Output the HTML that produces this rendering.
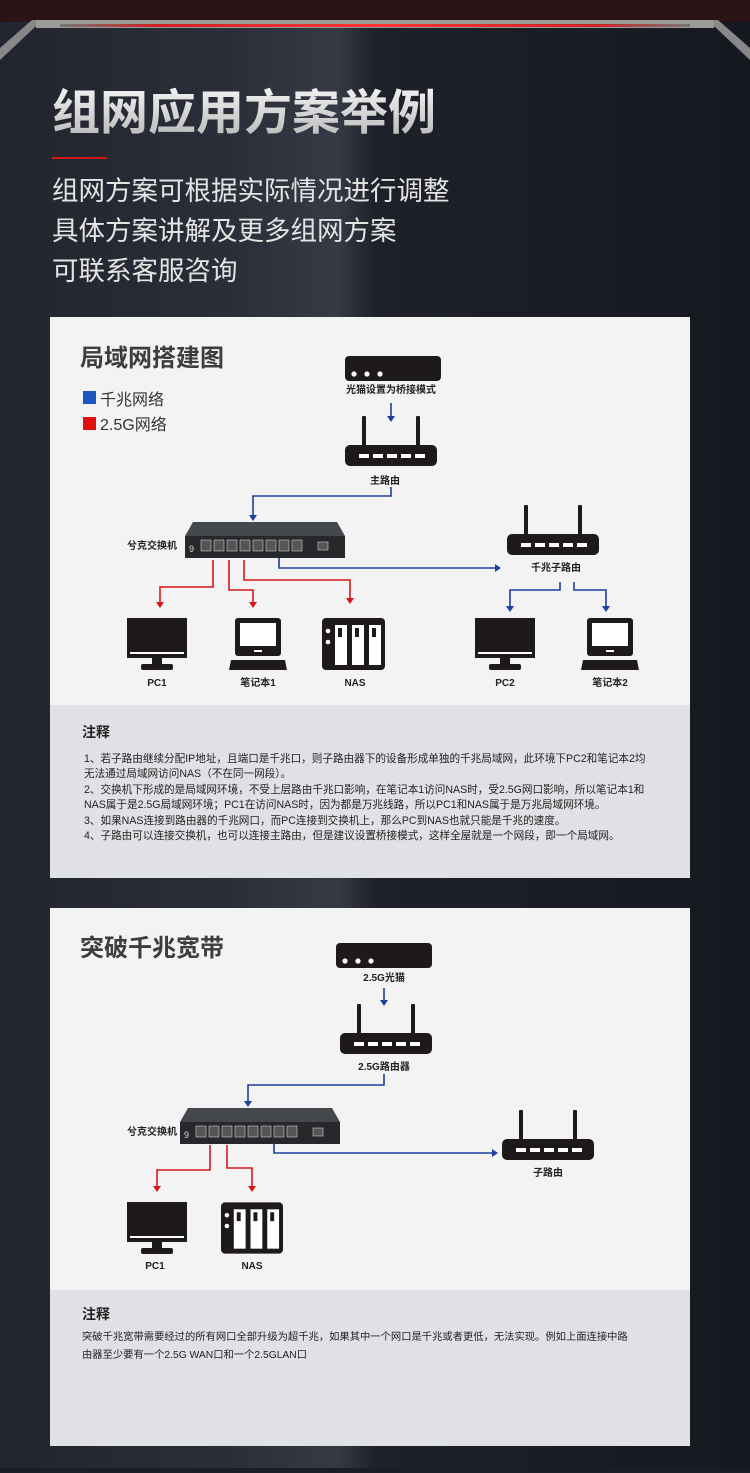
<!DOCTYPE html>
<html><head><meta charset="utf-8"><style>
html,body{margin:0;padding:0;}
body{width:750px;height:1468px;overflow:hidden;background:#1b1e27;font-family:"Liberation Sans","Noto Sans CJK SC",sans-serif;}
svg text{font-family:"Liberation Sans","Noto Sans CJK SC",sans-serif;}
</style></head><body>
<svg width="750" height="1468" viewBox="0 0 750 1468" xmlns="http://www.w3.org/2000/svg">
<defs>
<linearGradient id="bg" x1="0" x2="1" y1="0" y2="0">
<stop offset="0" stop-color="#22252e"/><stop offset="0.3" stop-color="#2a2e38"/><stop offset="0.45" stop-color="#363a45"/><stop offset="0.5" stop-color="#1e2129"/><stop offset="1" stop-color="#16181f"/>
</linearGradient>
<linearGradient id="red" x1="0" x2="1"><stop offset="0" stop-color="#777"/><stop offset="0.15" stop-color="#c22"/><stop offset="0.5" stop-color="#f33"/><stop offset="0.85" stop-color="#c22"/><stop offset="1" stop-color="#777"/></linearGradient>
<linearGradient id="tt" x1="0" x2="0" y1="0" y2="1"><stop offset="0" stop-color="#f2f2f2"/><stop offset="1" stop-color="#b8b8b8"/></linearGradient>
<symbol id="modem" viewBox="0 0 96 25"><rect x="0" y="0" width="96" height="25" rx="4" fill="#1e1a1a"/><circle cx="9" cy="18" r="2.6" fill="#fff"/><circle cx="22" cy="18" r="2.6" fill="#fff"/><circle cx="35" cy="18" r="2.6" fill="#fff"/></symbol>
<symbol id="router" viewBox="0 0 92 50"><rect x="17" y="0" width="4" height="32" rx="1" fill="#1e1a1a"/><rect x="71" y="0" width="4" height="32" rx="1" fill="#1e1a1a"/><rect x="0" y="29" width="92" height="21" rx="5" fill="#1e1a1a"/><g fill="#fff"><rect x="14" y="38" width="10" height="4"/><rect x="28" y="38" width="10" height="4"/><rect x="42" y="38" width="10" height="4"/><rect x="56" y="38" width="10" height="4"/><rect x="70" y="38" width="10" height="4"/></g></symbol>
<symbol id="switch" viewBox="0 0 160 36"><path d="M8,0 L152,0 L160,14 L0,14z" fill="#45484d"/><rect x="0" y="14" width="160" height="22" fill="#26282c"/><g fill="#555" stroke="#ccc" stroke-width="0.6"><rect x="16" y="18" width="10" height="11"/><rect x="29" y="18" width="10" height="11"/><rect x="42" y="18" width="10" height="11"/><rect x="55" y="18" width="10" height="11"/><rect x="68" y="18" width="10" height="11"/><rect x="81" y="18" width="10" height="11"/><rect x="94" y="18" width="10" height="11"/><rect x="107" y="18" width="10" height="11"/><rect x="133" y="20" width="10" height="8"/></g><text x="4" y="30" font-size="9" fill="#ddd">9</text></symbol>
<symbol id="pc" viewBox="0 0 60 52"><rect x="0" y="0" width="60" height="40" fill="#1e1a1a"/><rect x="3" y="34" width="54" height="2" fill="#fff"/><rect x="25" y="40" width="10" height="6" fill="#1e1a1a"/><rect x="14" y="46" width="32" height="6" rx="2" fill="#1e1a1a"/></symbol>
<symbol id="laptop" viewBox="0 0 58 52"><rect x="6" y="0" width="46" height="38" rx="3" fill="#1e1a1a"/><rect x="11" y="5" width="36" height="23" fill="#fff"/><rect x="25" y="32" width="8" height="2" fill="#fff"/><path d="M2,42 L56,42 L58,52 L0,52z" fill="#1e1a1a"/></symbol>
<symbol id="nas" viewBox="0 0 63 52"><rect x="0" y="0" width="63" height="52" rx="4" fill="#1e1a1a"/><circle cx="6" cy="13" r="2.3" fill="#fff"/><circle cx="6" cy="24" r="2.3" fill="#fff"/><rect x="13" y="7" width="12" height="40" fill="#fff"/><rect x="30" y="7" width="12" height="40" fill="#fff"/><rect x="47" y="7" width="12" height="40" fill="#fff"/><rect x="16" y="10" width="4" height="9" fill="#1e1a1a"/><rect x="33" y="10" width="4" height="9" fill="#1e1a1a"/><rect x="50" y="10" width="4" height="9" fill="#1e1a1a"/></symbol>
</defs>
<rect width="750" height="1468" fill="url(#bg)"/>
<rect width="750" height="22" fill="#2a1416"/>
<path d="M0,60 L36,26 L714,26 L750,60 L750,48 L718,20 L32,20 L0,48z" fill="#888"/>
<rect x="36" y="20" width="678" height="8" fill="#9a9a9a"/>
<rect x="60" y="24" width="630" height="3" fill="url(#red)"/>
<text x="52" y="129" font-size="48" font-weight="bold" fill="url(#tt)">组网应用方案举例</text>
<rect x="52" y="157" width="55" height="2" fill="#d01818"/>
<g font-size="26.5" fill="#e4e4e4"><text x="52" y="200">组网方案可根据实际情况进行调整</text><text x="52" y="240">具体方案讲解及更多组网方案</text><text x="52" y="280">可联系客服咨询</text></g>

<!-- card 1 -->
<rect x="50" y="317" width="640" height="561" fill="#f3f3f3"/>
<rect x="50" y="705" width="640" height="173" fill="#dfe1e5"/>
<text x="80" y="366" font-size="24" font-weight="bold" fill="#3d3d3d">局域网搭建图</text>
<rect x="83" y="391" width="13" height="13" fill="#1d55c0"/><text x="100" y="405" font-size="16" fill="#333">千兆网络</text>
<rect x="83" y="417" width="13" height="13" fill="#e01010"/><text x="100" y="430" font-size="16" fill="#333">2.5G网络</text>
<use href="#modem" x="345" y="356" width="96" height="25"/>
<text x="391" y="393" font-size="10" font-weight="bold" text-anchor="middle" fill="#222">光猫设置为桥接模式</text>
<use href="#router" x="345" y="416" width="92" height="50"/>
<text x="385" y="484" font-size="10" font-weight="bold" text-anchor="middle" fill="#222">主路由</text>
<use href="#switch" x="185" y="522" width="160" height="36"/>
<text x="127" y="549" font-size="10" font-weight="bold" fill="#222">兮克交换机</text>
<use href="#router" x="507" y="505" width="92" height="50"/>
<text x="556" y="571" font-size="10" font-weight="bold" text-anchor="middle" fill="#222">千兆子路由</text>
<g fill="none" stroke-width="1.6">
<path d="M391,403 V419" stroke="#1e3fa0"/><path d="M387,416 L391,422 L395,416z" fill="#1e3fa0" stroke="none"/>
<path d="M391,487 V496 H253 V516" stroke="#1e3fa0"/><path d="M249,515 L253,521 L257,515z" fill="#1e3fa0" stroke="none"/>
<path d="M279,558 V568 H496" stroke="#1e3fa0"/><path d="M495,564 L501,568 L495,572z" fill="#1e3fa0" stroke="none"/>
<path d="M560,582 V590 H510 V607" stroke="#1e3fa0"/><path d="M506,606 L510,612 L514,606z" fill="#1e3fa0" stroke="none"/>
<path d="M574,582 V590 H606 V607" stroke="#1e3fa0"/><path d="M602,606 L606,612 L610,606z" fill="#1e3fa0" stroke="none"/>
<path d="M213,560 V587 H160 V603" stroke="#d81818"/><path d="M156,602 L160,608 L164,602z" fill="#d81818" stroke="none"/>
<path d="M229,560 V590 H253 V603" stroke="#d81818"/><path d="M249,602 L253,608 L257,602z" fill="#d81818" stroke="none"/>
<path d="M244,560 V580 H350 V599" stroke="#d81818"/><path d="M346,598 L350,604 L354,598z" fill="#d81818" stroke="none"/>
</g>
<use href="#pc" x="127" y="618" width="60" height="52"/>
<use href="#laptop" x="229" y="618" width="58" height="52"/>
<use href="#nas" x="322" y="618" width="63" height="52"/>
<use href="#pc" x="475" y="618" width="60" height="52"/>
<use href="#laptop" x="581" y="618" width="58" height="52"/>
<g font-size="10" font-weight="bold" text-anchor="middle" fill="#222">
<text x="157" y="686">PC1</text><text x="258" y="686">笔记本1</text><text x="355" y="686">NAS</text><text x="505" y="686">PC2</text><text x="610" y="686">笔记本2</text></g>
<text x="82" y="737" font-size="14" font-weight="bold" fill="#222">注释</text>
<g font-size="10.6" fill="#222">
<text x="84" y="762">1、若子路由继续分配IP地址，且端口是千兆口，则子路由器下的设备形成单独的千兆局域网，此环境下PC2和笔记本2均</text>
<text x="84" y="777">无法通过局域网访问NAS（不在同一网段）。</text>
<text x="84" y="793">2、交换机下形成的是局域网环境，不受上层路由千兆口影响，在笔记本1访问NAS时，受2.5G网口影响，所以笔记本1和</text>
<text x="84" y="808">NAS属于是2.5G局域网环境；PC1在访问NAS时，因为都是万兆线路，所以PC1和NAS属于是万兆局域网环境。</text>
<text x="84" y="824">3、如果NAS连接到路由器的千兆网口，而PC连接到交换机上，那么PC到NAS也就只能是千兆的速度。</text>
<text x="84" y="839">4、子路由可以连接交换机，也可以连接主路由，但是建议设置桥接模式，这样全屋就是一个网段，即一个局域网。</text>
</g>

<!-- card 2 -->
<rect x="50" y="908" width="640" height="538" fill="#f3f3f3"/>
<rect x="50" y="1290" width="640" height="156" fill="#dfe1e5"/>
<text x="80" y="956" font-size="24" font-weight="bold" fill="#3d3d3d">突破千兆宽带</text>
<use href="#modem" x="336" y="943" width="96" height="25"/>
<text x="384" y="981" font-size="10" font-weight="bold" text-anchor="middle" fill="#222">2.5G光猫</text>
<use href="#router" x="340" y="1004" width="92" height="50"/>
<text x="384" y="1070" font-size="10" font-weight="bold" text-anchor="middle" fill="#222">2.5G路由器</text>
<use href="#switch" x="180" y="1108" width="160" height="36"/>
<text x="127" y="1135" font-size="10" font-weight="bold" fill="#222">兮克交换机</text>
<use href="#router" x="502" y="1110" width="92" height="50"/>
<text x="548" y="1176" font-size="10" font-weight="bold" text-anchor="middle" fill="#222">子路由</text>
<g fill="none" stroke-width="1.6">
<path d="M384,988 V1002" stroke="#1e3fa0"/><path d="M380,1000 L384,1006 L388,1000z" fill="#1e3fa0" stroke="none"/>
<path d="M384,1074 V1085 H248 V1102" stroke="#1e3fa0"/><path d="M244,1101 L248,1107 L252,1101z" fill="#1e3fa0" stroke="none"/>
<path d="M274,1144 V1153 H493" stroke="#1e3fa0"/><path d="M492,1149 L498,1153 L492,1157z" fill="#1e3fa0" stroke="none"/>
<path d="M210,1145 V1170 H157 V1187" stroke="#d81818"/><path d="M153,1186 L157,1192 L161,1186z" fill="#d81818" stroke="none"/>
<path d="M227,1145 V1168 H252 V1187" stroke="#d81818"/><path d="M248,1186 L252,1192 L256,1186z" fill="#d81818" stroke="none"/>
</g>
<use href="#pc" x="127" y="1202" width="60" height="52"/>
<use href="#nas" x="221" y="1202" width="62" height="52"/>
<g font-size="10" font-weight="bold" text-anchor="middle" fill="#222"><text x="155" y="1269">PC1</text><text x="252" y="1269">NAS</text></g>
<text x="82" y="1319" font-size="14" font-weight="bold" fill="#222">注释</text>
<g font-size="10.3" fill="#222">
<text x="82" y="1340">突破千兆宽带需要经过的所有网口全部升级为超千兆，如果其中一个网口是千兆或者更低，无法实现。例如上面连接中路</text>
<text x="82" y="1358">由器至少要有一个2.5G WAN口和一个2.5GLAN口</text>
</g>
</svg>
</body></html>
